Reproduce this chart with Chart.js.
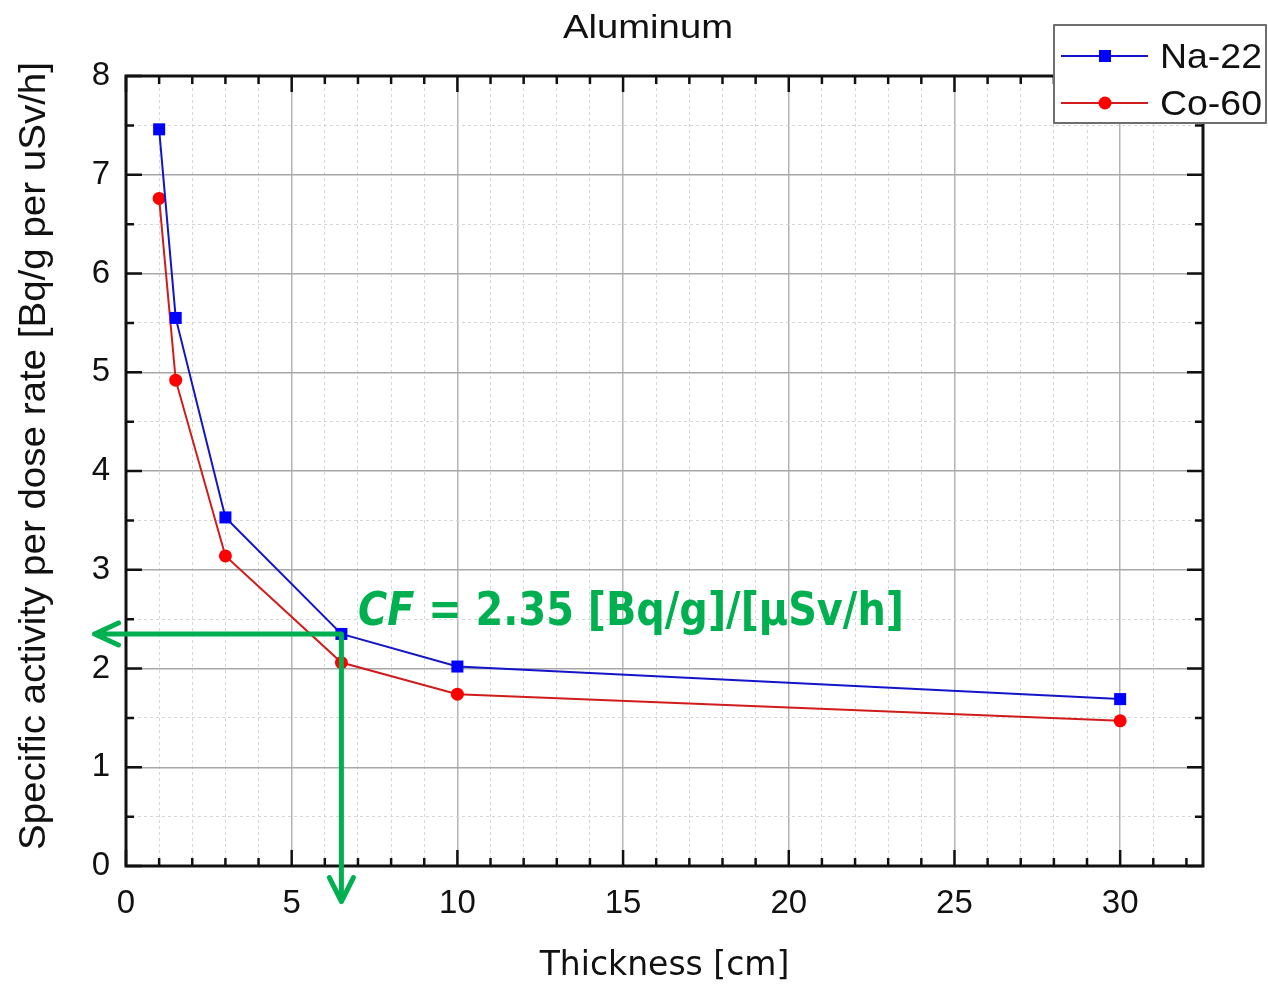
<!DOCTYPE html>
<html><head><meta charset="utf-8">
<script src="https://cdn.jsdelivr.net/npm/chart.js@4.4.1/dist/chart.umd.min.js"></script>
<style>html,body{margin:0;padding:0;background:#fff;overflow:hidden}#wrap{width:1268px;height:984px}</style>
</head><body><div id="wrap"><canvas id="c" width="1268" height="984"></canvas></div>
<script>
// ---- data ----
const thickness = [1, 1.5, 3, 6.5, 10, 30];
const na22 = [7.46, 5.55, 3.53, 2.35, 2.02, 1.69];
const co60 = [6.76, 4.92, 3.14, 2.06, 1.74, 1.47];
const seriesNames = ['Na-22', 'Co-60'];
const xTickLabels = [0, 5, 10, 15, 20, 25, 30];
const yTickLabels = [0, 1, 2, 3, 4, 5, 6, 7, 8];
const chartTitle = 'Aluminum';
const xTitle = 'Thickness [cm]';
const yTitle = 'Specific activity per dose rate [Bq/g per uSv/h]';
const cfThickness = 6.5;
const cfValue = 2.35;
const cfLabelItalic = 'CF';
const cfLabelRest = ' = 2.35 [Bq/g]/[µSv/h]';
const arrowTipX = -0.95;  // x value where the horizontal arrow ends
const arrowTipY = -0.36;  // y value where the vertical arrow ends

const GREEN = '#00b050';

function stretchText(ctx, text, x, y, font, targetW) {
  ctx.save();
  ctx.font = font;
  const w = ctx.measureText(text).width;
  ctx.translate(x, y);
  ctx.scale(targetW / w, 1);
  ctx.textAlign = 'left';
  ctx.textBaseline = 'alphabetic';
  ctx.fillText(text, 0, 0);
  ctx.restore();
}

const decor = {
  id: 'decor',
  afterDatasetsDraw(chart) {
    const ctx = chart.ctx, a = chart.chartArea;
    const xs = chart.scales.x, ys = chart.scales.y;
    ctx.save();
    ctx.strokeStyle = '#111';
    ctx.lineWidth = 2.5;
    ctx.beginPath();
    for (let v = 0; v <= 32; v += 1) {
      const px = xs.getPixelForValue(v);
      const len = v % 5 === 0 ? 16 : 8;
      ctx.moveTo(px, a.bottom); ctx.lineTo(px, a.bottom - len);
      ctx.moveTo(px, a.top); ctx.lineTo(px, a.top + len);
    }
    for (let v = 0; v <= 8; v += 0.5) {
      const py = ys.getPixelForValue(v);
      const len = Number.isInteger(v) ? 16 : 8;
      ctx.moveTo(a.left, py); ctx.lineTo(a.left + len, py);
      ctx.moveTo(a.right, py); ctx.lineTo(a.right - len, py);
    }
    ctx.stroke();
    ctx.lineWidth = 3;
    ctx.strokeRect(a.left, a.top, a.right - a.left, a.bottom - a.top);
    ctx.restore();
  },
  afterDraw(chart) {
    const ctx = chart.ctx;
    const xs = chart.scales.x, ys = chart.scales.y;
    const px = xs.getPixelForValue(cfThickness);
    const py = ys.getPixelForValue(cfValue);
    const tipX = xs.getPixelForValue(arrowTipX);
    const tipY = ys.getPixelForValue(arrowTipY);
    ctx.save();
    // arrows
    ctx.strokeStyle = GREEN;
    ctx.lineWidth = 5;
    ctx.lineCap = 'round';
    ctx.lineJoin = 'round';
    ctx.beginPath();
    ctx.moveTo(px, py); ctx.lineTo(tipX, py);
    ctx.moveTo(tipX + 24, py - 11); ctx.lineTo(tipX, py); ctx.lineTo(tipX + 24, py + 11);
    ctx.moveTo(px, py); ctx.lineTo(px, tipY);
    ctx.moveTo(px - 12, tipY - 24); ctx.lineTo(px, tipY); ctx.lineTo(px + 12, tipY - 24);
    ctx.stroke();
    // CF label
    ctx.fillStyle = GREEN;
    const fI = 'italic bold 46px "DejaVu Sans"';
    const fR = 'bold 46px "DejaVu Sans"';
    ctx.font = fI; const w1 = ctx.measureText(cfLabelItalic).width;
    ctx.font = fR; const w2 = ctx.measureText(cfLabelRest).width;
    const sx = 546 / (w1 + w2);
    const tx = xs.getPixelForValue(7.0), ty = ys.getPixelForValue(2.44);
    ctx.save();
    ctx.translate(tx, ty); ctx.scale(sx, 1);
    ctx.textBaseline = 'alphabetic'; ctx.textAlign = 'left';
    ctx.font = fI; ctx.fillText(cfLabelItalic, 0, 0);
    ctx.font = fR; ctx.fillText(cfLabelRest, w1, 0);
    ctx.restore();
    // title
    ctx.fillStyle = '#111';
    stretchText(ctx, chartTitle, 563, 38, '34px "Liberation Sans"', 170);
    // y axis title (rotated)
    ctx.save();
    ctx.translate(45, 850);
    ctx.rotate(-Math.PI / 2);
    stretchText(ctx, yTitle, 0, 0, '37px "Liberation Sans"', 788);
    ctx.restore();
    // legend
    ctx.fillStyle = '#fff';
    ctx.fillRect(1054, 25, 212, 98);
    ctx.strokeStyle = '#6e6e6e'; ctx.lineWidth = 2; ctx.lineCap = 'butt';
    ctx.strokeRect(1054, 25, 212, 98);
    const ds = chart.data.datasets;
    const rows = [56, 103];
    const baselines = [68, 115];
    ds.forEach((d, i) => {
      const y = rows[i];
      ctx.strokeStyle = d.borderColor; ctx.lineWidth = 2;
      ctx.beginPath(); ctx.moveTo(1061, y); ctx.lineTo(1148, y); ctx.stroke();
      ctx.fillStyle = d.pointBackgroundColor;
      if (d.pointStyle === 'rect') { ctx.fillRect(1099, y - 6, 12, 12); }
      else { ctx.beginPath(); ctx.arc(1105, y, 6.5, 0, Math.PI * 2); ctx.fill(); }
      ctx.fillStyle = '#111';
      stretchText(ctx, d.label, 1160, baselines[i], '35px "Liberation Sans"', 102);
    });
    ctx.restore();
  }
};

const pts = (xsArr, ysArr) => xsArr.map((x, i) => ({ x, y: ysArr[i] }));

new Chart(document.getElementById('c'), {
  type: 'line',
  data: {
    datasets: [
      { label: seriesNames[0], data: pts(thickness, na22), borderColor: '#1414c8', backgroundColor: '#0000ff',
        pointBackgroundColor: '#0000ff', pointBorderColor: '#0000ff', pointStyle: 'rect', pointRadius: 8.5,
        pointBorderWidth: 0, borderWidth: 2, tension: 0 },
      { label: seriesNames[1], data: pts(thickness, co60), borderColor: '#d01c1c', backgroundColor: '#ff0000',
        pointBackgroundColor: '#ff0000', pointBorderColor: '#ff0000', pointStyle: 'circle', pointRadius: 6.5,
        pointBorderWidth: 0, borderWidth: 2, tension: 0 }
    ]
  },
  options: {
    responsive: false, animation: false, devicePixelRatio: 1,
    layout: { padding: { top: 76, right: 65, bottom: 0, left: 0 } },
    plugins: { legend: { display: false }, title: { display: false }, tooltip: { enabled: false } },
    scales: {
      x: {
        type: 'linear', min: 0, max: 32.5,
        afterFit: s => { s.height = 118; },
        ticks: { stepSize: 1, autoSkip: false, maxRotation: 0, padding: 18, color: '#111',
          font: { family: '"Liberation Sans"', size: 33 },
          callback: v => xTickLabels.includes(v) ? String(v) : '' },
        grid: { drawTicks: false,
          color: c => (c.tick && c.tick.value % 5 === 0) ? '#b4b4b4' : '#d6d6d6',
          lineWidth: c => (c.tick && c.tick.value % 5 === 0) ? 1.5 : 1 },
        border: { display: false, dash: c => (c.tick && c.tick.value % 5 === 0) ? [] : [3, 3] },
        title: { display: true, text: xTitle, color: '#111', font: { family: '"DejaVu Sans"', size: 33 },
          padding: { top: 0, bottom: -2 } }
      },
      y: {
        type: 'linear', min: 0, max: 8,
        afterFit: s => { s.width = 126; },
        ticks: { stepSize: 0.5, autoSkip: false, padding: 16, color: '#111',
          font: { family: '"Liberation Sans"', size: 33 },
          callback: v => yTickLabels.includes(v) ? String(v) : '' },
        grid: { drawTicks: false,
          color: c => (c.tick && Number.isInteger(c.tick.value)) ? '#a8a8a8' : '#d6d6d6',
          lineWidth: c => (c.tick && Number.isInteger(c.tick.value)) ? 1.5 : 1 },
        border: { display: false, dash: c => (c.tick && Number.isInteger(c.tick.value)) ? [] : [3, 3] },
        title: { display: false }
      }
    }
  },
  plugins: [decor]
});
</script></body></html>
